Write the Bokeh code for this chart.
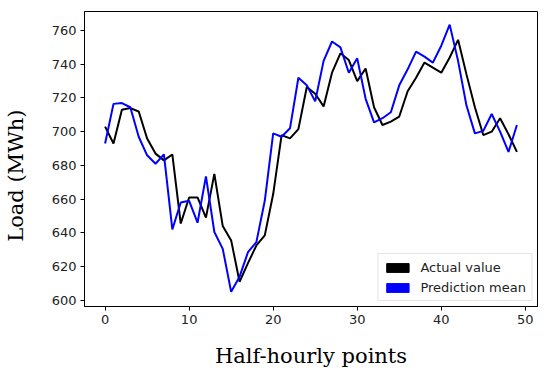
from bokeh.plotting import figure
from bokeh.models import Legend, LegendItem, FixedTicker, Range1d
from bokeh.embed import file_html
from bokeh.resources import INLINE

# Data
points = list(range(50))
actual = [703, 693, 713, 714, 712, 696, 687, 683, 686.5, 645.5,
          661, 661, 649, 675, 644, 635.5, 611, 622, 632.5, 638.5,
          663, 698, 696, 701.5, 726.5, 722.5, 715, 735, 746.5, 742.5,
          730, 737.5, 714.5, 704, 706, 709, 724, 732, 741, 738,
          735, 744, 754.5, 734, 714.5, 698, 700, 708, 698.5, 688]
predicted = [693, 716.5, 717, 714.5, 697, 686, 681, 686.5, 642, 658,
             659, 646, 673.5, 640.5, 630.5, 605, 614, 628.5, 634.5, 659,
             699, 697, 702, 732, 727.5, 718, 742, 753.5, 750, 735,
             743.5, 719.5, 705.5, 708, 711.5, 727.5, 737, 747.5, 744.5, 741,
             751, 763.5, 742, 715.5, 699, 700.5, 710.5, 700, 688, 704]
x_ticks = [0, 10, 20, 30, 40, 50]
y_ticks = [600, 620, 640, 660, 680, 700, 720, 740, 760]

p = figure(width=548, height=377, output_backend="svg", toolbar_location=None,
           x_range=Range1d(-2.45, 51.45), y_range=Range1d(596.3, 771.3),
           min_border_left=83, min_border_right=11, min_border_top=11, min_border_bottom=71)

p.line(points, actual, line_color="black", line_width=2)
p.line(points, predicted, line_color="#0000ff", line_width=2)

# legend handles as filled patches (not drawn in the plot area: NaN coordinates)
nan = float("nan")
r1 = p.quad(left=[nan], right=[nan], top=[nan], bottom=[nan], fill_color="black", line_color="black")
r2 = p.quad(left=[nan], right=[nan], top=[nan], bottom=[nan], fill_color="#0000ff", line_color="#0000ff")
legend = Legend(items=[LegendItem(label="Actual value", renderers=[r1]),
                       LegendItem(label="Prediction mean", renderers=[r2])],
                location="bottom_right")
legend.label_text_font = "DejaVu Sans"
legend.label_text_font_size = "13px"
legend.label_text_color = "#222222"
legend.glyph_width = 28
legend.glyph_height = 11
legend.label_height = 16
legend.label_standoff = 9
legend.spacing = 4
legend.padding = 5
legend.margin = 5
legend.border_line_color = "#cccccc"
legend.border_line_width = 1
legend.background_fill_alpha = 0.9
p.add_layout(legend)

p.xgrid.visible = False
p.ygrid.visible = False
p.outline_line_color = "black"
p.outline_line_width = 1
p.outline_line_alpha = 1

p.xaxis.ticker = FixedTicker(ticks=x_ticks)
p.yaxis.ticker = FixedTicker(ticks=y_ticks)
for ax in (p.xaxis, p.yaxis):
    ax.axis_line_color = "black"
    ax.major_tick_line_color = "black"
    ax.major_tick_out = 4
    ax.major_tick_in = 0
    ax.minor_tick_line_color = None
    ax.major_label_text_font = "DejaVu Sans"
    ax.major_label_text_font_size = "13px"
    ax.major_label_text_color = "#222222"
    ax.axis_label_text_font = "DejaVu Serif"
    ax.axis_label_text_font_style = "normal"
    ax.axis_label_text_font_size = "21px"
    ax.axis_label_text_color = "black"

p.xaxis.axis_label = "Half-hourly points"
p.xaxis.axis_label_standoff = 17
p.xaxis.major_label_standoff = 4
p.yaxis.major_label_standoff = 4
# trailing no-break spaces move the visible label a little below the frame centre
p.yaxis.axis_label = "Load (MWh)" + "\u00a0" * 5
p.yaxis.axis_label_standoff = 21

open("out.html", "w").write(file_html(p, INLINE))
